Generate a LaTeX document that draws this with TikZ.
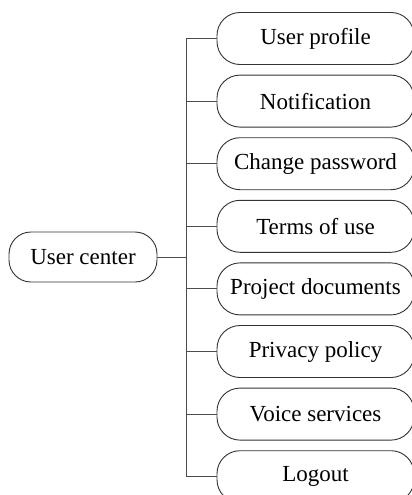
\documentclass[tikz,border=0pt]{standalone}
\usepackage{fontspec}
\setmainfont{Liberation Serif}
\begin{document}
\begin{tikzpicture}[x=1pt,y=1pt,
  itembox/.style={draw=black!80, line width=0.9pt, rectangle, rounded corners=23pt,
    minimum width=197pt, minimum height=52pt, inner sep=0pt,
    font=\fontsize{23}{27}\selectfont},
  rootbox/.style={draw=black!80, line width=0.9pt, rectangle, rounded corners=22pt,
    minimum width=148pt, minimum height=50pt, inner sep=0pt,
    font=\fontsize{23}{27}\selectfont},
  conn/.style={draw=black!70, line width=1pt}]
\useasboundingbox (0,0) rectangle (412,-495);
\clip (0,0) rectangle (412,-495);
\node[rootbox] (root) at (83,-257) {User center};
\node[itembox] (n1) at (315.5,-38.5) {User profile};
\node[itembox] (n2) at (315.5,-101.1) {Notification};
\node[itembox] (n3) at (315.5,-163.7) {Change password};
\node[itembox] (n4) at (315.5,-226.3) {Terms of use};
\node[itembox] (n5) at (315.5,-288.9) {Project documents};
\node[itembox] (n6) at (315.5,-351.5) {Privacy policy};
\node[itembox] (n7) at (315.5,-414.1) {Voice services};
\node[itembox] (n8) at (315.5,-476.7) {Logout};
\coordinate (top) at (186.5,-38.5);
\coordinate (bot) at (186.5,-476.7);
\coordinate (mid) at (186.5,-257);
\draw[conn] (top) -- (bot);
\draw[conn] (root.east) -- (mid);
\foreach \i in {1,...,8} {
  \draw[conn] (n\i.west) -- (n\i.west -| top);
}
\end{tikzpicture}
\end{document}
